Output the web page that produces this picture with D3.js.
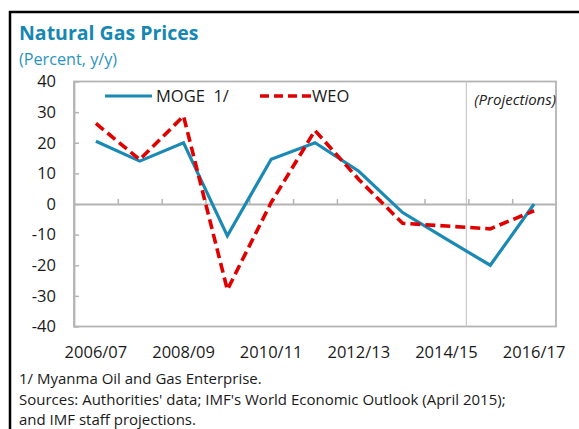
<!DOCTYPE html>
<html>
<head>
<meta charset="utf-8">
<script src="https://cdn.jsdelivr.net/npm/d3@7"></script>
<style>
  body { margin: 0; background: #fff; }
  svg { font-family: "Open Sans", "Noto Sans", sans-serif; }
</style>
</head>
<body>
<div class="chart"></div>
<script>
const years = [
  "2006/07", "2007/08", "2008/09", "2009/10", "2010/11", "2011/12",
  "2012/13", "2013/14", "2014/15", "2015/16", "2016/17"
];
const moge = [20.5, 14, 20, -10.4, 14.6, 20, 10.7, -2.8, -11.5, -20, 0];
const weo = [26.3, 14.5, 28.7, -28, 0.5, 24, 8, -6.3, -7.2, -8.1, -2.2];
const yTicks = [-40, -30, -20, -10, 0, 10, 20, 30, 40];
const labelYears = ["2006/07", "2008/09", "2010/11", "2012/13", "2014/15", "2016/17"];

const width = 579;
const height = 429;
const plotLeft = 74, plotRight = 556, plotTop = 81.5, plotBottom = 326.5;
const blue = "#1a8ab5";
const red = "#e00000";
const grey = "#b4b4b4";

const svg = d3
  .select(".chart")
  .append("svg")
  .attr("width", width)
  .attr("height", height);

// frame (top + left only)
svg.append("path")
  .attr("d", `M10,${height} V12 H${width}`)
  .attr("fill", "none")
  .attr("stroke", "#000")
  .attr("stroke-width", 2.5);

svg.append("text")
  .attr("x", 19).attr("y", 40)
  .attr("fill", "#1687b3")
  .attr("font-weight", "bold")
  .attr("font-size", 19.5)
  .text("Natural Gas Prices");

svg.append("text")
  .attr("x", 19).attr("y", 65)
  .attr("fill", "#2b93c4")
  .attr("font-size", 16.2)
  .text("(Percent, y/y)");

const x = d3.scaleBand().domain(years).range([plotLeft, plotRight]);
const xEdge = d3.scaleLinear().domain([0, years.length]).range([plotLeft, plotRight]);
const y = d3.scaleLinear().domain([-40, 40]).range([plotBottom, plotTop]);

// plot box
svg.append("rect")
  .attr("x", plotLeft).attr("y", plotTop)
  .attr("width", plotRight - plotLeft).attr("height", plotBottom - plotTop)
  .attr("fill", "none")
  .attr("stroke", grey)
  .attr("stroke-width", 1.8);

// projection divider
svg.append("line")
  .attr("x1", x("2015/16") - 2).attr("x2", x("2015/16") - 2)
  .attr("y1", plotTop).attr("y2", plotBottom)
  .attr("stroke", "#c8c8c8")
  .attr("stroke-width", 1.2);

svg.append("text")
  .attr("x", plotRight).attr("y", 105)
  .attr("text-anchor", "end")
  .attr("font-style", "italic")
  .attr("font-size", 15)
  .attr("fill", "#222")
  .text("(Projections)");

// y axis
const yAxis = d3.axisLeft(y)
  .tickValues(yTicks)
  .tickFormat(d => String(d))
  .tickSizeInner(-5)
  .tickSizeOuter(0)
  .tickPadding(18);
const gy = svg.append("g")
  .attr("transform", `translate(${plotLeft},0)`)
  .call(yAxis);
gy.select(".domain").attr("stroke", grey).attr("stroke-width", 1.8);
gy.selectAll(".tick line").attr("stroke", grey).attr("stroke-width", 1.5);
gy.selectAll(".tick text")
  .attr("font-size", 16.5)
  .attr("fill", "#1a1a1a")
  .attr("font-family", "'Open Sans', sans-serif");

// zero line with ticks at category edges
const zeroAxis = d3.axisTop(xEdge)
  .tickValues(d3.range(1, years.length))
  .tickFormat("")
  .tickSizeInner(5)
  .tickSizeOuter(0);
const gz = svg.append("g")
  .attr("transform", `translate(0,${y(0)})`)
  .call(zeroAxis);
gz.select(".domain").attr("stroke", grey).attr("stroke-width", 1.8);
gz.selectAll(".tick line").attr("stroke", grey).attr("stroke-width", 1.5);

// x labels
const xAxis = d3.axisBottom(x)
  .tickValues(labelYears)
  .tickSize(0)
  .tickPadding(20);
const gx = svg.append("g")
  .attr("transform", `translate(0,${plotBottom})`)
  .call(xAxis);
gx.select(".domain").remove();
gx.selectAll(".tick text")
  .attr("font-size", 16.5)
  .attr("fill", "#1a1a1a")
  .attr("font-family", "'Open Sans', sans-serif");

// series
const line = d3.line()
  .x((d, i) => x(years[i]) + x.bandwidth() / 2)
  .y(d => y(d));

svg.append("path")
  .datum(moge)
  .attr("d", line)
  .attr("fill", "none")
  .attr("stroke", blue)
  .attr("stroke-width", 3.2)
  .attr("stroke-linejoin", "miter");

svg.append("path")
  .datum(weo)
  .attr("d", line)
  .attr("fill", "none")
  .attr("stroke", red)
  .attr("stroke-width", 3.6)
  .attr("stroke-dasharray", "10,5");

// legend
svg.append("line")
  .attr("x1", 105).attr("x2", 152).attr("y1", 96).attr("y2", 96)
  .attr("stroke", blue).attr("stroke-width", 3);
svg.append("text")
  .attr("x", 156).attr("y", 102)
  .attr("font-size", 16.5)
  .attr("fill", "#1a1a1a")
  .style("white-space", "pre")
  .text("MOGE  1/");
svg.append("line")
  .attr("x1", 260).attr("x2", 311).attr("y1", 96).attr("y2", 96)
  .attr("stroke", red).attr("stroke-width", 3.4)
  .attr("stroke-dasharray", "9,5");
svg.append("text")
  .attr("x", 312).attr("y", 102)
  .attr("font-size", 16.5)
  .attr("fill", "#1a1a1a")
  .text("WEO");

// notes
const notes = [
  "1/ Myanma Oil and Gas Enterprise.",
  "Sources: Authorities' data; IMF's World Economic Outlook (April 2015);",
  "and IMF staff projections."
];
svg.selectAll(".note")
  .data(notes)
  .enter()
  .append("text")
  .attr("class", "note")
  .attr("x", 19)
  .attr("y", (d, i) => 384 + i * 20.5)
  .attr("font-size", 15)
  .attr("fill", "#1a1a1a")
  .text(d => d);
</script>
</body>
</html>
